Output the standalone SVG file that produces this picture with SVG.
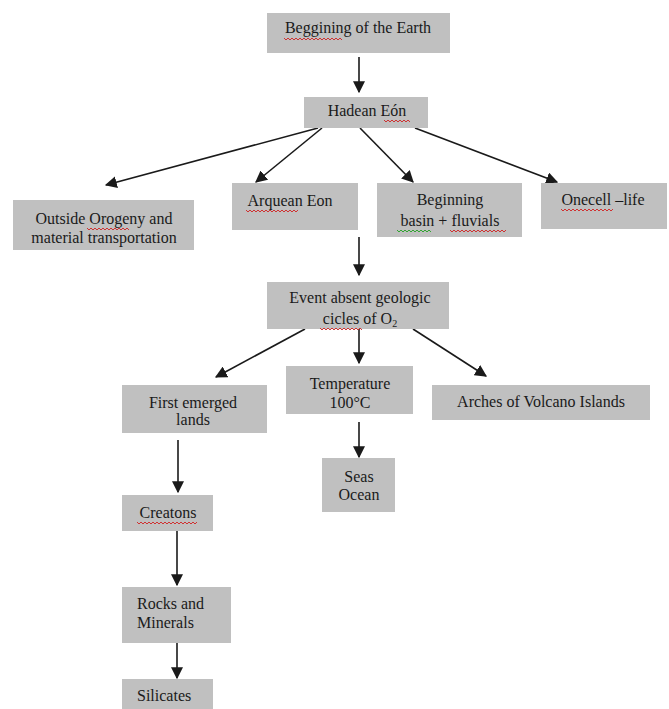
<svg xmlns="http://www.w3.org/2000/svg" width="669" height="709" viewBox="0 0 669 709">
<defs>
<style>
.box{fill:#c0c0c0;}
.t{font-family:"Liberation Serif","Times New Roman",serif;font-size:16px;fill:#1a1a1a;text-anchor:middle;}
.tl{text-anchor:start;}
.c{stroke:#1a1a1a;stroke-width:1.6;fill:none;marker-end:url(#ah);}
.sp{stroke:#d02020;stroke-width:0.9;fill:none;}
.sg{stroke:#20a020;stroke-width:0.9;fill:none;}
</style>
<marker id="ah" viewBox="0 0 10 10" refX="9" refY="5" markerWidth="7.5" markerHeight="7.5" orient="auto" markerUnits="strokeWidth">
<path d="M0,0 L10,5 L0,10 z" fill="#1a1a1a"/>
</marker>
</defs>
<rect width="669" height="709" fill="#ffffff"/>
<g id="connectors">
<line class="c" x1="359" y1="57" x2="359" y2="92"/>
<line class="c" x1="318" y1="128" x2="106" y2="185"/>
<line class="c" x1="322" y1="128" x2="256" y2="182"/>
<line class="c" x1="360" y1="128" x2="413" y2="182"/>
<line class="c" x1="415" y1="128" x2="557" y2="182"/>
<line class="c" x1="359" y1="237" x2="359" y2="275"/>
<line class="c" x1="305" y1="329" x2="216" y2="377"/>
<line class="c" x1="359" y1="329" x2="359" y2="363"/>
<line class="c" x1="413" y1="329" x2="486" y2="376"/>
<line class="c" x1="359" y1="422" x2="359" y2="457"/>
<line class="c" x1="178" y1="440" x2="178" y2="492"/>
<line class="c" x1="177" y1="531" x2="177" y2="585"/>
<line class="c" x1="177" y1="643" x2="177" y2="678"/>
</g>
<g id="n-earth">
<rect class="box" x="267" y="13" width="183" height="40"/>
<text class="t" x="358" y="33">Beggining of the Earth</text>
<path class="sp" d="M284,38 l2,2 l2,-2 l2,2 l2,-2 l2,2 l2,-2 l2,2 l2,-2 l2,2 l2,-2 l2,2 l2,-2 l2,2 l2,-2 l2,2 l2,-2 l2,2 l2,-2 l2,2 l2,-2 l2,2 l2,-2 l2,2 l2,-2 l2,2 l2,-2 l2,2 l2,-2 l2,2"/>
</g>
<g id="n-hadean">
<rect class="box" x="304" y="97" width="124" height="31"/>
<text class="t" x="367" y="116">Hadean Eón</text>
<path class="sp" d="M384,120 l2,2 l2,-2 l2,2 l2,-2 l2,2 l2,-2 l2,2 l2,-2 l2,2 l2,-2 l2,2 l2,-2 l2,2"/>
</g>
<g id="n-outside">
<rect class="box" x="13" y="200" width="181" height="50"/>
<text class="t" x="104" y="224">Outside Orogeny and</text>
<text class="t" x="104" y="243">material transportation</text>
<path class="sp" d="M87,228 l2,2 l2,-2 l2,2 l2,-2 l2,2 l2,-2 l2,2 l2,-2 l2,2 l2,-2 l2,2 l2,-2 l2,2 l2,-2 l2,2 l2,-2 l2,2 l2,-2 l2,2 l2,-2 l2,2"/>
</g>
<g id="n-arquean">
<rect class="box" x="232" y="183" width="126" height="47"/>
<text class="t" x="290" y="206">Arquean Eon</text>
<path class="sp" d="M246,210 l2,2 l2,-2 l2,2 l2,-2 l2,2 l2,-2 l2,2 l2,-2 l2,2 l2,-2 l2,2 l2,-2 l2,2 l2,-2 l2,2 l2,-2 l2,2 l2,-2 l2,2 l2,-2 l2,2 l2,-2 l2,2 l2,-2 l2,2 l2,-2"/>
</g>
<g id="n-beginning">
<rect class="box" x="377" y="183" width="145" height="54"/>
<text class="t" x="450" y="205">Beginning</text>
<text class="t" x="450" y="226">basin + fluvials</text>
<path class="sg" d="M397,230 l2,2 l2,-2 l2,2 l2,-2 l2,2 l2,-2 l2,2 l2,-2 l2,2 l2,-2 l2,2 l2,-2 l2,2 l2,-2 l2,2 l2,-2 l2,2"/>
<path class="sp" d="M450,230 l2,2 l2,-2 l2,2 l2,-2 l2,2 l2,-2 l2,2 l2,-2 l2,2 l2,-2 l2,2 l2,-2 l2,2 l2,-2 l2,2 l2,-2 l2,2 l2,-2 l2,2 l2,-2 l2,2 l2,-2 l2,2 l2,-2 l2,2 l2,-2 l2,2 l2,-2"/>
</g>
<g id="n-onecell">
<rect class="box" x="541" y="183" width="126" height="46"/>
<text class="t" x="603" y="205">Onecell –life</text>
<path class="sp" d="M561,209 l2,2 l2,-2 l2,2 l2,-2 l2,2 l2,-2 l2,2 l2,-2 l2,2 l2,-2 l2,2 l2,-2 l2,2 l2,-2 l2,2 l2,-2 l2,2 l2,-2 l2,2 l2,-2 l2,2 l2,-2 l2,2 l2,-2 l2,2 l2,-2"/>
</g>
<g id="n-event">
<rect class="box" x="267" y="282" width="182" height="47"/>
<text class="t" x="360" y="303">Event absent geologic</text>
<text class="t" x="360" y="324">cicles of O<tspan font-size="10" dy="3">2</tspan></text>
<path class="sp" d="M320,328 l2,2 l2,-2 l2,2 l2,-2 l2,2 l2,-2 l2,2 l2,-2 l2,2 l2,-2 l2,2 l2,-2 l2,2 l2,-2 l2,2 l2,-2 l2,2 l2,-2 l2,2 l2,-2 l2,2"/>
</g>
<g id="n-first">
<rect class="box" x="122" y="385" width="145" height="48"/>
<text class="t" x="193" y="408">First emerged</text>
<text class="t" x="193" y="425">lands</text>
</g>
<g id="n-temp">
<rect class="box" x="286" y="366" width="127" height="48"/>
<text class="t" x="350" y="389">Temperature</text>
<text class="t" x="350" y="408">100°C</text>
</g>
<g id="n-arches">
<rect class="box" x="432" y="385" width="218" height="35"/>
<text class="t" x="541" y="407">Arches of Volcano Islands</text>
</g>
<g id="n-seas">
<rect class="box" x="322" y="458" width="73" height="54"/>
<text class="t" x="359" y="482">Seas</text>
<text class="t" x="359" y="500">Ocean</text>
</g>
<g id="n-creatons">
<rect class="box" x="122" y="495" width="91" height="36"/>
<text class="t" x="168" y="518">Creatons</text>
<path class="sp" d="M137,522 l2,2 l2,-2 l2,2 l2,-2 l2,2 l2,-2 l2,2 l2,-2 l2,2 l2,-2 l2,2 l2,-2 l2,2 l2,-2 l2,2 l2,-2 l2,2 l2,-2 l2,2 l2,-2 l2,2 l2,-2 l2,2 l2,-2 l2,2 l2,-2 l2,2 l2,-2 l2,2 l2,-2"/>
</g>
<g id="n-rocks">
<rect class="box" x="122" y="587" width="109" height="56"/>
<text class="t tl" x="137" y="609">Rocks and</text>
<text class="t tl" x="137" y="628">Minerals</text>
</g>
<g id="n-silicates">
<rect class="box" x="122" y="679" width="91" height="32"/>
<text class="t tl" x="137" y="701">Silicates</text>
</g>
</svg>
